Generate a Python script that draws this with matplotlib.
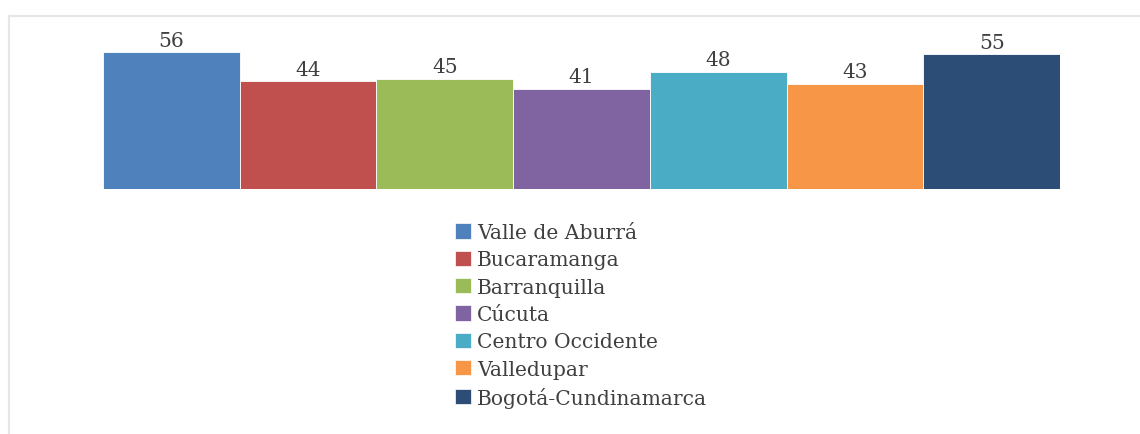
import matplotlib.pyplot as plt
from matplotlib.patches import Patch
from matplotlib.lines import Line2D

# ===== 데이터 =====
regiones = ["Valle de Aburrá", "Bucaramanga", "Barranquilla", "Cúcuta",
            "Centro Occidente", "Valledupar", "Bogotá-Cundinamarca"]
valores = [56, 44, 45, 41, 48, 43, 55]
colores = ["#4F81BD", "#C0504D", "#9BBB59", "#8064A2",
           "#4BACC6", "#F79646", "#2C4D75"]
# ==================

W, H = 1140, 435
fig = plt.figure(figsize=(W / 100, H / 100), dpi=100)
plt.rcParams["font.family"] = ["DejaVu Serif"]
texto = "#404040"

# ejes: baseline y=190px, ancho barras 103..1060px
y_max = 60
px_por_unidad = 137 / 56
ax_top = 190 - y_max * px_por_unidad
ax = fig.add_axes([103 / W, 1 - 190 / H, (1060 - 103) / W, (190 - ax_top) / H])

x = range(len(valores))
bars = ax.bar(x, valores, width=1.0, color=colores, edgecolor="white", linewidth=0.6)
for b, v in zip(bars, valores):
    ax.text(b.get_x() + b.get_width() / 2, v + 1.0, str(v), ha="center", va="bottom",
            fontsize=14.5, color=texto, clip_on=False)

ax.set_xlim(-0.5, len(valores) - 0.5)
ax.set_ylim(0, y_max)
ax.axis("off")

handles = [Patch(facecolor=c, edgecolor="white", linewidth=0.5) for c in colores]
fig.legend(handles, regiones, loc="upper left", bbox_to_anchor=(455 / W, 1 - 224 / H),
           frameon=False, fontsize=14.6, labelcolor=texto, handlelength=0.78,
           handleheight=0.78, handletextpad=0.3, labelspacing=0.41, borderpad=0,
           borderaxespad=0)

# borde gris claro (izquierda y arriba)
fig.add_artist(Line2D([9 / W, 1], [1 - 17 / H, 1 - 17 / H], color="#e6e6e6", lw=1.5))
fig.add_artist(Line2D([9 / W, 9 / W], [0, 1 - 17 / H], color="#e6e6e6", lw=1.5))

fig.savefig("out.png", dpi=100)
